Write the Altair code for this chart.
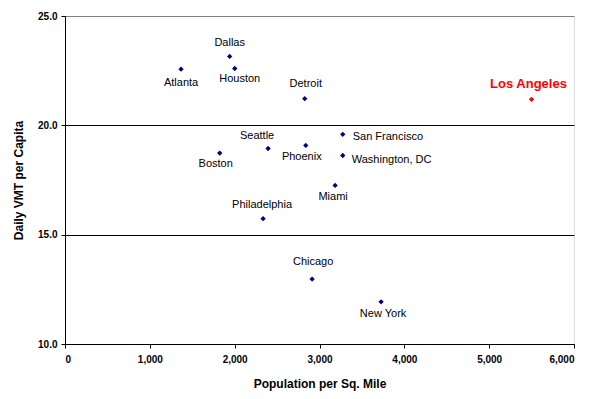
import altair as alt
import pandas as pd

cities = ["Atlanta", "Dallas", "Houston", "Detroit", "Los Angeles", "San Francisco",
          "Seattle", "Phoenix", "Washington, DC", "Boston", "Miami", "Philadelphia",
          "Chicago", "New York"]
density = [1368, 1941, 2001, 2826, 5499, 3274, 2394, 2838, 3274, 1824, 3184, 2335, 2913, 3726]
vmt = [22.57, 23.15, 22.6, 21.22, 21.19, 19.59, 18.94, 19.08, 18.62, 18.73, 17.25, 15.73, 12.97, 11.93]
# label offsets (pixels) relative to the point
label_dx = [0, 0, 5, 1, -3, 10, -11, -4, 9, -4, -2, -1, 1, 2]
label_dy = [14, -13, 11, -15, -15, 3, -13, 12, 4, 11, 12, -14, -17, 12]
label_align = ["center", "center", "center", "center", "center", "left", "center",
               "center", "left", "center", "center", "center", "center", "center"]
highlight = ["no", "no", "no", "no", "yes", "no", "no", "no", "no", "no", "no", "no", "no", "no"]

df = pd.DataFrame({"city": cities, "density": density, "vmt": vmt,
                   "dx": label_dx, "dy": label_dy, "align": label_align, "hl": highlight})

FONT = "Liberation Sans"

x = alt.X("density:Q", title="Population per Sq. Mile",
          scale=alt.Scale(domain=[0, 6000], nice=False),
          axis=alt.Axis(values=[0, 1000, 2000, 3000, 4000, 5000, 6000], format=",.0f",
                        grid=False, domainColor="#000", tickColor="#000", tickSize=4,
                        labelFontWeight="bold", labelFontSize=10, labelColor="#000",
                        labelPadding=6, titleFontSize=12, titleFontWeight="bold",
                        titlePadding=14, titleColor="#000", labelFont=FONT, titleFont=FONT))
y = alt.Y("vmt:Q", title="Daily VMT per Capita",
          scale=alt.Scale(domain=[10, 25], nice=False),
          axis=alt.Axis(values=[10, 15, 20, 25], format=".1f",
                        gridColor={"condition": {"test": "datum.value === 25", "value": "#808080"},
                                   "value": "#000000"},
                        domainColor="#000", tickColor="#000", tickSize=4,
                        labelFontWeight="bold", labelFontSize=10, labelColor="#000",
                        labelPadding=4, titleFontSize=12, titleFontWeight="bold",
                        titlePadding=12, titleColor="#000", labelFont=FONT, titleFont=FONT))

color_scale = alt.Scale(domain=["no", "yes"], range=["#000080", "#FF0000"])

points = alt.Chart(df).mark_point(shape="diamond", filled=True, size=28, opacity=1).encode(
    x=x, y=y, color=alt.Color("hl:N", scale=color_scale, legend=None))

def labels(align, hl, size, weight):
    sub = df[(df["align"] == align) & (df["hl"] == hl)]
    return alt.Chart(sub).mark_text(align=align, baseline="middle", font=FONT,
                                    fontSize=size, fontWeight=weight,
                                    dx=alt.expr("datum.dx"), dy=alt.expr("datum.dy"),
                                    color="#FF0000" if hl == "yes" else "#000000").encode(
        x="density:Q", y="vmt:Q", text="city:N")

chart = alt.layer(
    points,
    labels("center", "no", 11, "normal"),
    labels("left", "no", 11, "normal"),
    labels("center", "yes", 13, "bold"),
).properties(
    width=509, height=328,
    autosize=alt.AutoSizeParams(type="none"),
    padding={"left": 57, "top": 8, "right": 10, "bottom": 47},
).configure_view(stroke="#808080", strokeWidth=1).configure(background="white")

chart.save("out.html", embed_options={"renderer": "svg", "actions": False})
